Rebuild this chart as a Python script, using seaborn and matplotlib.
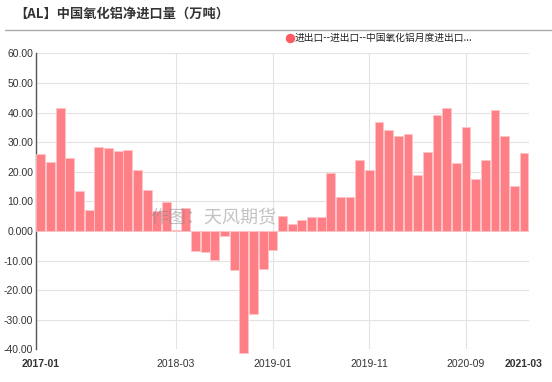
import pandas as pd
import numpy as np
import seaborn as sns
import matplotlib.pyplot as plt

# monthly net imports, 2017-01 .. 2021-03
months = pd.date_range("2017-01", "2021-03", freq="MS").strftime("%Y-%m").tolist()
net_import = [
    26.0, 23.2, 41.5, 24.6, 13.4, 7.0, 28.2, 28.0, 27.0, 27.3, 20.5, 13.8,
    6.8, 9.8, 0.4, 7.9, -6.8, -7.0, -9.9, -1.7, -13.3, -41.4, -28.1, -13.0,
    -6.5, 4.9, 2.5, 3.6, 4.7, 4.7, 19.7, 11.6, 11.4, 23.8, 20.6, 36.9,
    34.2, 32.0, 32.9, 18.9, 26.5, 39.0, 41.5, 22.9, 35.0, 17.4, 24.0, 40.8,
    31.9, 15.1, 26.3,
]
tick_months = ["2017-01", "2018-03", "2019-01", "2019-11", "2020-09", "2021-03"]
y_ticks = [-40, -30, -20, -10, 0, 10, 20, 30, 40, 50, 60]
y_labels = ["-40.00", "-30.00", "-20.00", "-10.00", "0.000",
            "10.00", "20.00", "30.00", "40.00", "50.00", "60.00"]

title = "【AL】中国氧化铝净进口量（万吨）"
legend_label = "进出口--进出口--中国氧化铝月度进出口..."
watermark = "作图：天风期货"

df = pd.DataFrame({"month": months, "value": net_import})

sns.set_style("white")
plt.rcParams["font.family"] = ["Liberation Sans", "Noto Sans CJK SC", "DejaVu Sans"]

fig = plt.figure(figsize=(5.52, 3.82), dpi=100)
ax = fig.add_axes([0.0652, 0.0856, 0.8928, 0.7748])

sns.barplot(data=df, x="month", y="value", color="#ff7f86", saturation=1,
            width=0.92, edgecolor="#ffc4c7", linewidth=0.6, ax=ax, zorder=3)
for p in ax.patches:
    p.set_clip_on(False)

ax.set_xlim(-0.5, len(months) - 0.5)
ax.set_ylim(-40, 60)
ax.set_yticks(y_ticks)
ax.set_yticklabels(y_labels, fontsize=7.5, color="#333333")

pos = [months.index(m) for m in tick_months]
ax.set_xticks(pos)
ax.set_xticklabels(tick_months, fontsize=7.5, color="#333333")
for lbl in ax.get_xticklabels():
    if lbl.get_text() in ("2017-01", "2021-03"):
        lbl.set_fontweight("bold")
ax.tick_params(axis="y", length=0, pad=2)
ax.tick_params(axis="x", length=0, pad=7)
ax.set_xlabel("")
ax.set_ylabel("")

# grid
for y in y_ticks:
    ax.axhline(y, color="#e3e3e3", lw=0.8, zorder=1)
for p_ in pos[1:-1]:
    ax.axvline(p_, color="#e3e3e3", lw=0.8, zorder=1)

for side in ["top", "right", "bottom"]:
    ax.spines[side].set_visible(False)
ax.spines["left"].set_color("#555555")
ax.spines["left"].set_linewidth(1)

# title + separator line
fig.text(14 / 552, 1 - 14 / 382, title, fontsize=9.5, color="#333333",
         fontweight="bold", va="center", ha="left",
         family=["Noto Sans CJK SC", "DejaVu Sans"])
fig.add_artist(plt.Line2D([5 / 552, 1], [1 - 29.5 / 382] * 2, color="#aaaaaa", lw=1))

# legend
fig.add_artist(plt.Line2D([289.5 / 552], [1 - 37.5 / 382], marker="o", markersize=5.8,
                          color="#ff5a5f", lw=0))
fig.text(295 / 552, 1 - 37.5 / 382, legend_label, fontsize=7, color="#222222",
         va="center", ha="left", family=["Noto Sans CJK SC", "DejaVu Sans"])

# watermark
fig.text(150 / 552, 1 - 218 / 382, watermark, fontsize=13, color="#888888", alpha=0.5,
         va="center", ha="left", family=["Noto Sans CJK SC", "DejaVu Sans"], zorder=10)

plt.savefig("out.png", dpi=100)
